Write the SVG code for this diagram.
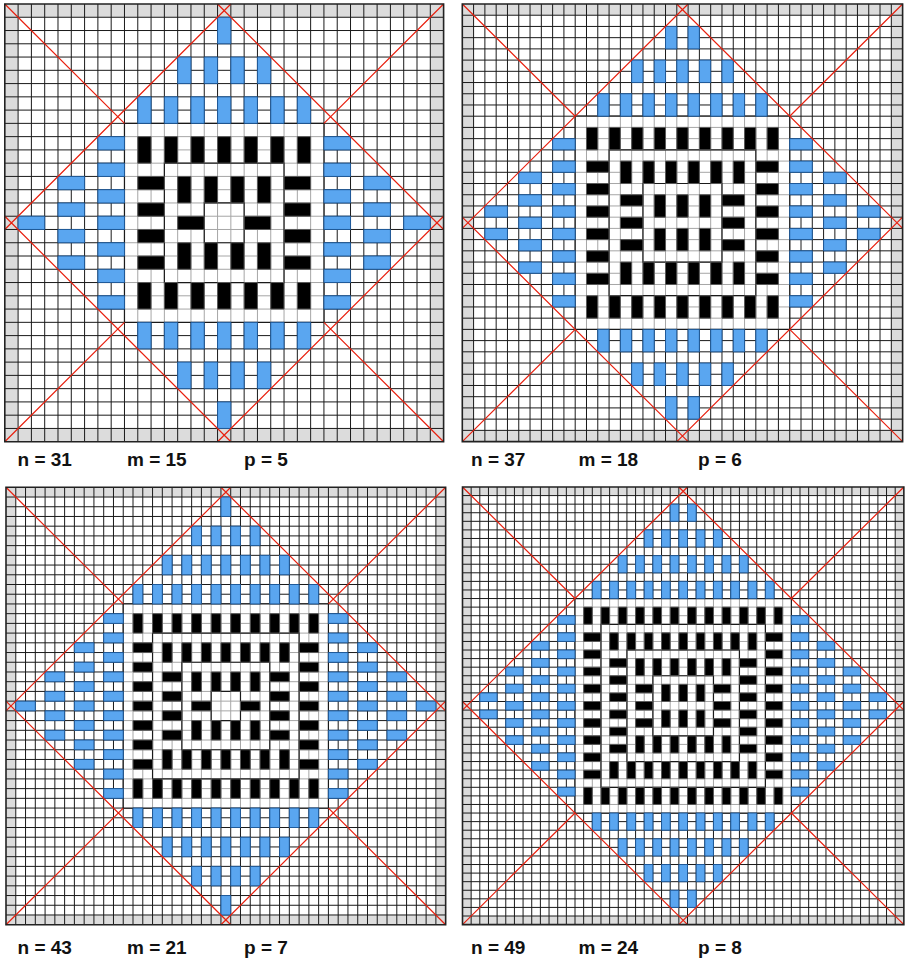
<svg xmlns="http://www.w3.org/2000/svg" width="911" height="966" viewBox="0 0 911 966">
<style>
.bg{fill:#dcdcdc}
.wh{fill:#fff}
.g{fill:none;stroke:#1a1a1a;stroke-width:1;vector-effect:non-scaling-stroke}
.lg{fill:none;stroke:#a6a6a6;stroke-width:1;vector-effect:non-scaling-stroke}
.ring{fill:none;stroke:#1a1a1a;stroke-width:1.2;vector-effect:non-scaling-stroke}
.bk{fill:#000;stroke:#5a5a5a;stroke-width:1;vector-effect:non-scaling-stroke}
.bl{fill:#5aa6f0;stroke:#1f5a9a;stroke-width:1;vector-effect:non-scaling-stroke}
.red{fill:none;stroke:#e8200f;stroke-width:1.2;vector-effect:non-scaling-stroke}
.frame{fill:none;stroke:#222;stroke-width:1.6;vector-effect:non-scaling-stroke}
.lbl{font-family:"Liberation Sans",Arial,sans-serif;font-weight:bold;font-size:19px;fill:#111}
</style>
<rect width="911" height="966" fill="#fff"/>

<g id="panel1" transform="translate(217.55 216.22) scale(13.297 13.264)">
<rect class="bg" x="-16" y="-16" width="33" height="33"/>
<rect class="wh" x="-15" y="-15" width="31" height="31"/>
<path class="g" d="M-15-16v33
m1-33v33m1-33v33m1-33v33m1-33v33m1-33v33
m1-33v33m1-33v33m1-33v33m1-33v33m1-33v33
m1-33v33m1-33v33m1-33v33m1-33v33m1-33v33
m1-33v33m1-33v33m1-33v33m1-33v33m1-33v33
m1-33v33m1-33v33m1-33v33m1-33v33m1-33v33
m1-33v33m1-33v33m1-33v33m1-33v33m1-33v33
m1-33v33
M-16-15h33
m-33 1h33m-33 1h33m-33 1h33m-33 1h33m-33 1h33
m-33 1h33m-33 1h33m-33 1h33m-33 1h33m-33 1h33
m-33 1h33m-33 1h33m-33 1h33m-33 1h33m-33 1h33
m-33 1h33m-33 1h33m-33 1h33m-33 1h33m-33 1h33
m-33 1h33m-33 1h33m-33 1h33m-33 1h33m-33 1h33
m-33 1h33m-33 1h33m-33 1h33m-33 1h33m-33 1h33
m-33 1h33"/>
<rect class="wh" x="-7" y="-7" width="15" height="15"/>
<path class="lg" d="M-6-7v15
m1-15v15m1-15v15m1-15v15m1-15v15m1-15v15
m1-15v15m1-15v15m1-15v15m1-15v15m1-15v15
m1-15v15m1-15v15m1-15v15
M-7-6h15
m-15 1h15m-15 1h15m-15 1h15m-15 1h15m-15 1h15
m-15 1h15m-15 1h15m-15 1h15m-15 1h15m-15 1h15
m-15 1h15m-15 1h15m-15 1h15"/>
<path class="ring" d="M-7-7h15v15h-15zM-4-4h9v9h-9zM-1-1h3v3h-3z"/>
<path class="bk" d="M-3-3h1v2h-1zm2 0h1v2h-1zm2 0h1v2h-1zm2 0h1v2h-1z
M-3 2h1v2h-1zm2 0h1v2h-1zm2 0h1v2h-1zm2 0h1v2h-1z
M-3 0h2v1h-2zM2 0h2v1h-2z
M-6-6h1v2h-1zm2 0h1v2h-1zm2 0h1v2h-1zm2 0h1v2h-1zm2 0h1v2h-1zm2 0h1v2h-1zm2 0h1v2h-1z
M-6 5h1v2h-1zm2 0h1v2h-1zm2 0h1v2h-1zm2 0h1v2h-1zm2 0h1v2h-1zm2 0h1v2h-1zm2 0h1v2h-1z
M-6-3h2v1h-2zm0 2h2v1h-2zm0 2h2v1h-2zm0 2h2v1h-2z
M5-3h2v1h-2zm0 2h2v1h-2zm0 2h2v1h-2zm0 2h2v1h-2z"/>
<path class="bl" d="M-6-9h1v2h-1zm2 0h1v2h-1zm2 0h1v2h-1zm2 0h1v2h-1zm2 0h1v2h-1zm2 0h1v2h-1zm2 0h1v2h-1z
M-6 8h1v2h-1zm2 0h1v2h-1zm2 0h1v2h-1zm2 0h1v2h-1zm2 0h1v2h-1zm2 0h1v2h-1zm2 0h1v2h-1z
M-9-6h2v1h-2zm0 2h2v1h-2zm0 2h2v1h-2zm0 2h2v1h-2zm0 2h2v1h-2zm0 2h2v1h-2zm0 2h2v1h-2z
M8-6h2v1h-2zm0 2h2v1h-2zm0 2h2v1h-2zm0 2h2v1h-2zm0 2h2v1h-2zm0 2h2v1h-2zm0 2h2v1h-2z
M-3-12h1v2h-1zm2 0h1v2h-1zm2 0h1v2h-1zm2 0h1v2h-1z
M-3 11h1v2h-1zm2 0h1v2h-1zm2 0h1v2h-1zm2 0h1v2h-1z
M-12-3h2v1h-2zm0 2h2v1h-2zm0 2h2v1h-2zm0 2h2v1h-2z
M11-3h2v1h-2zm0 2h2v1h-2zm0 2h2v1h-2zm0 2h2v1h-2z
M0-15h1v2h-1zM0 14h1v2h-1zM-15 0h2v1h-2zM14 0h2v1h-2z"/>
<path class="red" d="M-16-16L-7-7M8 8L17 17M-16 17L-7 8M8-7L17-16M1-16L-16 1M0-16L17 1M-16 0L1 17M17 0L0 17"/>
<rect class="frame" x="-16" y="-16" width="33" height="33"/>
</g>

<g id="panel2" transform="translate(676.81 217.18) scale(11.29 11.22)">
<rect class="bg" x="-19" y="-19" width="39" height="39"/>
<rect class="wh" x="-18" y="-18" width="37" height="37"/>
<path class="g" d="M-18-19v39
m1-39v39m1-39v39m1-39v39m1-39v39m1-39v39
m1-39v39m1-39v39m1-39v39m1-39v39m1-39v39
m1-39v39m1-39v39m1-39v39m1-39v39m1-39v39
m1-39v39m1-39v39m1-39v39m1-39v39m1-39v39
m1-39v39m1-39v39m1-39v39m1-39v39m1-39v39
m1-39v39m1-39v39m1-39v39m1-39v39m1-39v39
m1-39v39m1-39v39m1-39v39m1-39v39m1-39v39
m1-39v39m1-39v39
M-19-18h39
m-39 1h39m-39 1h39m-39 1h39m-39 1h39m-39 1h39
m-39 1h39m-39 1h39m-39 1h39m-39 1h39m-39 1h39
m-39 1h39m-39 1h39m-39 1h39m-39 1h39m-39 1h39
m-39 1h39m-39 1h39m-39 1h39m-39 1h39m-39 1h39
m-39 1h39m-39 1h39m-39 1h39m-39 1h39m-39 1h39
m-39 1h39m-39 1h39m-39 1h39m-39 1h39m-39 1h39
m-39 1h39m-39 1h39m-39 1h39m-39 1h39m-39 1h39
m-39 1h39m-39 1h39"/>
<rect class="wh" x="-9" y="-9" width="19" height="19"/>
<path class="lg" d="M-8-9v19
m1-19v19m1-19v19m1-19v19m1-19v19m1-19v19
m1-19v19m1-19v19m1-19v19m1-19v19m1-19v19
m1-19v19m1-19v19m1-19v19m1-19v19m1-19v19
m1-19v19m1-19v19
M-9-8h19
m-19 1h19m-19 1h19m-19 1h19m-19 1h19m-19 1h19
m-19 1h19m-19 1h19m-19 1h19m-19 1h19m-19 1h19
m-19 1h19m-19 1h19m-19 1h19m-19 1h19m-19 1h19
m-19 1h19m-19 1h19"/>
<path class="ring" d="M-9-9h19v19h-19zM-6-6h13v13h-13zM-3-3h7v7h-7z"/>
<path class="bk" d="M-2-2h1v2h-1zm2 0h1v2h-1zm2 0h1v2h-1z
M-2 1h1v2h-1zm2 0h1v2h-1zm2 0h1v2h-1z
M-5-5h1v2h-1zm2 0h1v2h-1zm2 0h1v2h-1zm2 0h1v2h-1zm2 0h1v2h-1zm2 0h1v2h-1z
M-5 4h1v2h-1zm2 0h1v2h-1zm2 0h1v2h-1zm2 0h1v2h-1zm2 0h1v2h-1zm2 0h1v2h-1z
M-5-2h2v1h-2zm0 2h2v1h-2zm0 2h2v1h-2z
M4-2h2v1h-2zm0 2h2v1h-2zm0 2h2v1h-2z
M-8-8h1v2h-1zm2 0h1v2h-1zm2 0h1v2h-1zm2 0h1v2h-1zm2 0h1v2h-1zm2 0h1v2h-1zm2 0h1v2h-1zm2 0h1v2h-1zm2 0h1v2h-1z
M-8 7h1v2h-1zm2 0h1v2h-1zm2 0h1v2h-1zm2 0h1v2h-1zm2 0h1v2h-1zm2 0h1v2h-1zm2 0h1v2h-1zm2 0h1v2h-1zm2 0h1v2h-1z
M-8-5h2v1h-2zm0 2h2v1h-2zm0 2h2v1h-2zm0 2h2v1h-2zm0 2h2v1h-2zm0 2h2v1h-2z
M7-5h2v1h-2zm0 2h2v1h-2zm0 2h2v1h-2zm0 2h2v1h-2zm0 2h2v1h-2zm0 2h2v1h-2z"/>
<path class="bl" d="M-7-11h1v2h-1zm2 0h1v2h-1zm2 0h1v2h-1zm2 0h1v2h-1zm2 0h1v2h-1zm2 0h1v2h-1zm2 0h1v2h-1zm2 0h1v2h-1z
M-7 10h1v2h-1zm2 0h1v2h-1zm2 0h1v2h-1zm2 0h1v2h-1zm2 0h1v2h-1zm2 0h1v2h-1zm2 0h1v2h-1zm2 0h1v2h-1z
M-11-7h2v1h-2zm0 2h2v1h-2zm0 2h2v1h-2zm0 2h2v1h-2zm0 2h2v1h-2zm0 2h2v1h-2zm0 2h2v1h-2zm0 2h2v1h-2z
M10-7h2v1h-2zm0 2h2v1h-2zm0 2h2v1h-2zm0 2h2v1h-2zm0 2h2v1h-2zm0 2h2v1h-2zm0 2h2v1h-2zm0 2h2v1h-2z
M-4-14h1v2h-1zm2 0h1v2h-1zm2 0h1v2h-1zm2 0h1v2h-1zm2 0h1v2h-1z
M-4 13h1v2h-1zm2 0h1v2h-1zm2 0h1v2h-1zm2 0h1v2h-1zm2 0h1v2h-1z
M-14-4h2v1h-2zm0 2h2v1h-2zm0 2h2v1h-2zm0 2h2v1h-2zm0 2h2v1h-2z
M13-4h2v1h-2zm0 2h2v1h-2zm0 2h2v1h-2zm0 2h2v1h-2zm0 2h2v1h-2z
M-1-17h1v2h-1zm2 0h1v2h-1z
M-1 16h1v2h-1zm2 0h1v2h-1z
M-17-1h2v1h-2zm0 2h2v1h-2z
M16-1h2v1h-2zm0 2h2v1h-2z"/>
<path class="red" d="M-19-19L-9-9M10 10L20 20M-19 20L-9 10M10-9L20-19M1-19L-19 1M0-19L20 1M-19 0L1 20M20 0L0 20"/>
<rect class="frame" x="-19" y="-19" width="39" height="39"/>
</g>

<g id="panel3" transform="translate(220.94 701.14) scale(9.77 9.72)">
<rect class="bg" x="-22" y="-22" width="45" height="45"/>
<rect class="wh" x="-21" y="-21" width="43" height="43"/>
<path class="g" d="M-21-22v45
m1-45v45m1-45v45m1-45v45m1-45v45m1-45v45
m1-45v45m1-45v45m1-45v45m1-45v45m1-45v45
m1-45v45m1-45v45m1-45v45m1-45v45m1-45v45
m1-45v45m1-45v45m1-45v45m1-45v45m1-45v45
m1-45v45m1-45v45m1-45v45m1-45v45m1-45v45
m1-45v45m1-45v45m1-45v45m1-45v45m1-45v45
m1-45v45m1-45v45m1-45v45m1-45v45m1-45v45
m1-45v45m1-45v45m1-45v45m1-45v45m1-45v45
m1-45v45m1-45v45m1-45v45
M-22-21h45
m-45 1h45m-45 1h45m-45 1h45m-45 1h45m-45 1h45
m-45 1h45m-45 1h45m-45 1h45m-45 1h45m-45 1h45
m-45 1h45m-45 1h45m-45 1h45m-45 1h45m-45 1h45
m-45 1h45m-45 1h45m-45 1h45m-45 1h45m-45 1h45
m-45 1h45m-45 1h45m-45 1h45m-45 1h45m-45 1h45
m-45 1h45m-45 1h45m-45 1h45m-45 1h45m-45 1h45
m-45 1h45m-45 1h45m-45 1h45m-45 1h45m-45 1h45
m-45 1h45m-45 1h45m-45 1h45m-45 1h45m-45 1h45
m-45 1h45m-45 1h45m-45 1h45"/>
<rect class="wh" x="-10" y="-10" width="21" height="21"/>
<path class="lg" d="M-9-10v21
m1-21v21m1-21v21m1-21v21m1-21v21m1-21v21
m1-21v21m1-21v21m1-21v21m1-21v21m1-21v21
m1-21v21m1-21v21m1-21v21m1-21v21m1-21v21
m1-21v21m1-21v21m1-21v21m1-21v21
M-10-9h21
m-21 1h21m-21 1h21m-21 1h21m-21 1h21m-21 1h21
m-21 1h21m-21 1h21m-21 1h21m-21 1h21m-21 1h21
m-21 1h21m-21 1h21m-21 1h21m-21 1h21m-21 1h21
m-21 1h21m-21 1h21m-21 1h21m-21 1h21"/>
<path class="ring" d="M-10-10h21v21h-21zM-7-7h15v15h-15zM-4-4h9v9h-9zM-1-1h3v3h-3z"/>
<path class="bk" d="M-3-3h1v2h-1zm2 0h1v2h-1zm2 0h1v2h-1zm2 0h1v2h-1z
M-3 2h1v2h-1zm2 0h1v2h-1zm2 0h1v2h-1zm2 0h1v2h-1z
M-3 0h2v1h-2zM2 0h2v1h-2z
M-6-6h1v2h-1zm2 0h1v2h-1zm2 0h1v2h-1zm2 0h1v2h-1zm2 0h1v2h-1zm2 0h1v2h-1zm2 0h1v2h-1z
M-6 5h1v2h-1zm2 0h1v2h-1zm2 0h1v2h-1zm2 0h1v2h-1zm2 0h1v2h-1zm2 0h1v2h-1zm2 0h1v2h-1z
M-6-3h2v1h-2zm0 2h2v1h-2zm0 2h2v1h-2zm0 2h2v1h-2z
M5-3h2v1h-2zm0 2h2v1h-2zm0 2h2v1h-2zm0 2h2v1h-2z
M-9-9h1v2h-1zm2 0h1v2h-1zm2 0h1v2h-1zm2 0h1v2h-1zm2 0h1v2h-1zm2 0h1v2h-1zm2 0h1v2h-1zm2 0h1v2h-1zm2 0h1v2h-1zm2 0h1v2h-1z
M-9 8h1v2h-1zm2 0h1v2h-1zm2 0h1v2h-1zm2 0h1v2h-1zm2 0h1v2h-1zm2 0h1v2h-1zm2 0h1v2h-1zm2 0h1v2h-1zm2 0h1v2h-1zm2 0h1v2h-1z
M-9-6h2v1h-2zm0 2h2v1h-2zm0 2h2v1h-2zm0 2h2v1h-2zm0 2h2v1h-2zm0 2h2v1h-2zm0 2h2v1h-2z
M8-6h2v1h-2zm0 2h2v1h-2zm0 2h2v1h-2zm0 2h2v1h-2zm0 2h2v1h-2zm0 2h2v1h-2zm0 2h2v1h-2z"/>
<path class="bl" d="M-9-12h1v2h-1zm2 0h1v2h-1zm2 0h1v2h-1zm2 0h1v2h-1zm2 0h1v2h-1zm2 0h1v2h-1zm2 0h1v2h-1zm2 0h1v2h-1zm2 0h1v2h-1zm2 0h1v2h-1z
M-9 11h1v2h-1zm2 0h1v2h-1zm2 0h1v2h-1zm2 0h1v2h-1zm2 0h1v2h-1zm2 0h1v2h-1zm2 0h1v2h-1zm2 0h1v2h-1zm2 0h1v2h-1zm2 0h1v2h-1z
M-12-9h2v1h-2zm0 2h2v1h-2zm0 2h2v1h-2zm0 2h2v1h-2zm0 2h2v1h-2zm0 2h2v1h-2zm0 2h2v1h-2zm0 2h2v1h-2zm0 2h2v1h-2zm0 2h2v1h-2z
M11-9h2v1h-2zm0 2h2v1h-2zm0 2h2v1h-2zm0 2h2v1h-2zm0 2h2v1h-2zm0 2h2v1h-2zm0 2h2v1h-2zm0 2h2v1h-2zm0 2h2v1h-2zm0 2h2v1h-2z
M-6-15h1v2h-1zm2 0h1v2h-1zm2 0h1v2h-1zm2 0h1v2h-1zm2 0h1v2h-1zm2 0h1v2h-1zm2 0h1v2h-1z
M-6 14h1v2h-1zm2 0h1v2h-1zm2 0h1v2h-1zm2 0h1v2h-1zm2 0h1v2h-1zm2 0h1v2h-1zm2 0h1v2h-1z
M-15-6h2v1h-2zm0 2h2v1h-2zm0 2h2v1h-2zm0 2h2v1h-2zm0 2h2v1h-2zm0 2h2v1h-2zm0 2h2v1h-2z
M14-6h2v1h-2zm0 2h2v1h-2zm0 2h2v1h-2zm0 2h2v1h-2zm0 2h2v1h-2zm0 2h2v1h-2zm0 2h2v1h-2z
M-3-18h1v2h-1zm2 0h1v2h-1zm2 0h1v2h-1zm2 0h1v2h-1z
M-3 17h1v2h-1zm2 0h1v2h-1zm2 0h1v2h-1zm2 0h1v2h-1z
M-18-3h2v1h-2zm0 2h2v1h-2zm0 2h2v1h-2zm0 2h2v1h-2z
M17-3h2v1h-2zm0 2h2v1h-2zm0 2h2v1h-2zm0 2h2v1h-2z
M0-21h1v2h-1zM0 20h1v2h-1zM-21 0h2v1h-2zM20 0h2v1h-2z"/>
<path class="red" d="M-22-22L-10-10M11 11L23 23M-22 23L-10 11M11-10L23-22M1-22L-22 1M0-22L23 1M-22 0L1 23M23 0L0 23"/>
<rect class="frame" x="-22" y="-22" width="45" height="45"/>
</g>

<g id="panel4" transform="translate(678.85 701.5) scale(8.654 8.58)">
<rect class="bg" x="-25" y="-25" width="51" height="51"/>
<rect class="wh" x="-24" y="-24" width="49" height="49"/>
<path class="g" d="M-24-25v51
m1-51v51m1-51v51m1-51v51m1-51v51m1-51v51
m1-51v51m1-51v51m1-51v51m1-51v51m1-51v51
m1-51v51m1-51v51m1-51v51m1-51v51m1-51v51
m1-51v51m1-51v51m1-51v51m1-51v51m1-51v51
m1-51v51m1-51v51m1-51v51m1-51v51m1-51v51
m1-51v51m1-51v51m1-51v51m1-51v51m1-51v51
m1-51v51m1-51v51m1-51v51m1-51v51m1-51v51
m1-51v51m1-51v51m1-51v51m1-51v51m1-51v51
m1-51v51m1-51v51m1-51v51m1-51v51m1-51v51
m1-51v51m1-51v51m1-51v51m1-51v51
M-25-24h51
m-51 1h51m-51 1h51m-51 1h51m-51 1h51m-51 1h51
m-51 1h51m-51 1h51m-51 1h51m-51 1h51m-51 1h51
m-51 1h51m-51 1h51m-51 1h51m-51 1h51m-51 1h51
m-51 1h51m-51 1h51m-51 1h51m-51 1h51m-51 1h51
m-51 1h51m-51 1h51m-51 1h51m-51 1h51m-51 1h51
m-51 1h51m-51 1h51m-51 1h51m-51 1h51m-51 1h51
m-51 1h51m-51 1h51m-51 1h51m-51 1h51m-51 1h51
m-51 1h51m-51 1h51m-51 1h51m-51 1h51m-51 1h51
m-51 1h51m-51 1h51m-51 1h51m-51 1h51m-51 1h51
m-51 1h51m-51 1h51m-51 1h51m-51 1h51"/>
<rect class="wh" x="-12" y="-12" width="25" height="25"/>
<path class="lg" d="M-11-12v25
m1-25v25m1-25v25m1-25v25m1-25v25m1-25v25
m1-25v25m1-25v25m1-25v25m1-25v25m1-25v25
m1-25v25m1-25v25m1-25v25m1-25v25m1-25v25
m1-25v25m1-25v25m1-25v25m1-25v25m1-25v25
m1-25v25m1-25v25m1-25v25
M-12-11h25
m-25 1h25m-25 1h25m-25 1h25m-25 1h25m-25 1h25
m-25 1h25m-25 1h25m-25 1h25m-25 1h25m-25 1h25
m-25 1h25m-25 1h25m-25 1h25m-25 1h25m-25 1h25
m-25 1h25m-25 1h25m-25 1h25m-25 1h25m-25 1h25
m-25 1h25m-25 1h25m-25 1h25"/>
<path class="ring" d="M-12-12h25v25h-25zM-9-9h19v19h-19zM-6-6h13v13h-13zM-3-3h7v7h-7z"/>
<path class="bk" d="M-2-2h1v2h-1zm2 0h1v2h-1zm2 0h1v2h-1z
M-2 1h1v2h-1zm2 0h1v2h-1zm2 0h1v2h-1z
M-5-5h1v2h-1zm2 0h1v2h-1zm2 0h1v2h-1zm2 0h1v2h-1zm2 0h1v2h-1zm2 0h1v2h-1z
M-5 4h1v2h-1zm2 0h1v2h-1zm2 0h1v2h-1zm2 0h1v2h-1zm2 0h1v2h-1zm2 0h1v2h-1z
M-5-2h2v1h-2zm0 2h2v1h-2zm0 2h2v1h-2z
M4-2h2v1h-2zm0 2h2v1h-2zm0 2h2v1h-2z
M-8-8h1v2h-1zm2 0h1v2h-1zm2 0h1v2h-1zm2 0h1v2h-1zm2 0h1v2h-1zm2 0h1v2h-1zm2 0h1v2h-1zm2 0h1v2h-1zm2 0h1v2h-1z
M-8 7h1v2h-1zm2 0h1v2h-1zm2 0h1v2h-1zm2 0h1v2h-1zm2 0h1v2h-1zm2 0h1v2h-1zm2 0h1v2h-1zm2 0h1v2h-1zm2 0h1v2h-1z
M-8-5h2v1h-2zm0 2h2v1h-2zm0 2h2v1h-2zm0 2h2v1h-2zm0 2h2v1h-2zm0 2h2v1h-2z
M7-5h2v1h-2zm0 2h2v1h-2zm0 2h2v1h-2zm0 2h2v1h-2zm0 2h2v1h-2zm0 2h2v1h-2z
M-11-11h1v2h-1zm2 0h1v2h-1zm2 0h1v2h-1zm2 0h1v2h-1zm2 0h1v2h-1zm2 0h1v2h-1zm2 0h1v2h-1zm2 0h1v2h-1zm2 0h1v2h-1zm2 0h1v2h-1zm2 0h1v2h-1zm2 0h1v2h-1z
M-11 10h1v2h-1zm2 0h1v2h-1zm2 0h1v2h-1zm2 0h1v2h-1zm2 0h1v2h-1zm2 0h1v2h-1zm2 0h1v2h-1zm2 0h1v2h-1zm2 0h1v2h-1zm2 0h1v2h-1zm2 0h1v2h-1zm2 0h1v2h-1z
M-11-8h2v1h-2zm0 2h2v1h-2zm0 2h2v1h-2zm0 2h2v1h-2zm0 2h2v1h-2zm0 2h2v1h-2zm0 2h2v1h-2zm0 2h2v1h-2zm0 2h2v1h-2z
M10-8h2v1h-2zm0 2h2v1h-2zm0 2h2v1h-2zm0 2h2v1h-2zm0 2h2v1h-2zm0 2h2v1h-2zm0 2h2v1h-2zm0 2h2v1h-2zm0 2h2v1h-2z"/>
<path class="bl" d="M-10-14h1v2h-1zm2 0h1v2h-1zm2 0h1v2h-1zm2 0h1v2h-1zm2 0h1v2h-1zm2 0h1v2h-1zm2 0h1v2h-1zm2 0h1v2h-1zm2 0h1v2h-1zm2 0h1v2h-1zm2 0h1v2h-1z
M-10 13h1v2h-1zm2 0h1v2h-1zm2 0h1v2h-1zm2 0h1v2h-1zm2 0h1v2h-1zm2 0h1v2h-1zm2 0h1v2h-1zm2 0h1v2h-1zm2 0h1v2h-1zm2 0h1v2h-1zm2 0h1v2h-1z
M-14-10h2v1h-2zm0 2h2v1h-2zm0 2h2v1h-2zm0 2h2v1h-2zm0 2h2v1h-2zm0 2h2v1h-2zm0 2h2v1h-2zm0 2h2v1h-2zm0 2h2v1h-2zm0 2h2v1h-2zm0 2h2v1h-2z
M13-10h2v1h-2zm0 2h2v1h-2zm0 2h2v1h-2zm0 2h2v1h-2zm0 2h2v1h-2zm0 2h2v1h-2zm0 2h2v1h-2zm0 2h2v1h-2zm0 2h2v1h-2zm0 2h2v1h-2zm0 2h2v1h-2z
M-7-17h1v2h-1zm2 0h1v2h-1zm2 0h1v2h-1zm2 0h1v2h-1zm2 0h1v2h-1zm2 0h1v2h-1zm2 0h1v2h-1zm2 0h1v2h-1z
M-7 16h1v2h-1zm2 0h1v2h-1zm2 0h1v2h-1zm2 0h1v2h-1zm2 0h1v2h-1zm2 0h1v2h-1zm2 0h1v2h-1zm2 0h1v2h-1z
M-17-7h2v1h-2zm0 2h2v1h-2zm0 2h2v1h-2zm0 2h2v1h-2zm0 2h2v1h-2zm0 2h2v1h-2zm0 2h2v1h-2zm0 2h2v1h-2z
M16-7h2v1h-2zm0 2h2v1h-2zm0 2h2v1h-2zm0 2h2v1h-2zm0 2h2v1h-2zm0 2h2v1h-2zm0 2h2v1h-2zm0 2h2v1h-2z
M-4-20h1v2h-1zm2 0h1v2h-1zm2 0h1v2h-1zm2 0h1v2h-1zm2 0h1v2h-1z
M-4 19h1v2h-1zm2 0h1v2h-1zm2 0h1v2h-1zm2 0h1v2h-1zm2 0h1v2h-1z
M-20-4h2v1h-2zm0 2h2v1h-2zm0 2h2v1h-2zm0 2h2v1h-2zm0 2h2v1h-2z
M19-4h2v1h-2zm0 2h2v1h-2zm0 2h2v1h-2zm0 2h2v1h-2zm0 2h2v1h-2z
M-1-23h1v2h-1zm2 0h1v2h-1z
M-1 22h1v2h-1zm2 0h1v2h-1z
M-23-1h2v1h-2zm0 2h2v1h-2z
M22-1h2v1h-2zm0 2h2v1h-2z"/>
<path class="red" d="M-25-25L-12-12M13 13L26 26M-25 26L-12 13M13-12L26-25M1-25L-25 1M0-25L26 1M-25 0L1 26M26 0L0 26"/>
<rect class="frame" x="-25" y="-25" width="51" height="51"/>
</g>

<g id="labels">
<text class="lbl" x="17.5" y="466">n = 31</text>
<text class="lbl" x="127" y="466">m = 15</text>
<text class="lbl" x="244" y="466">p = 5</text>
<text class="lbl" x="471" y="466">n = 37</text>
<text class="lbl" x="578.5" y="466">m = 18</text>
<text class="lbl" x="698" y="466">p = 6</text>
<text class="lbl" x="17.5" y="954">n = 43</text>
<text class="lbl" x="127" y="954">m = 21</text>
<text class="lbl" x="244" y="954">p = 7</text>
<text class="lbl" x="471" y="954">n = 49</text>
<text class="lbl" x="578.5" y="954">m = 24</text>
<text class="lbl" x="698" y="954">p = 8</text>
</g>
</svg>
